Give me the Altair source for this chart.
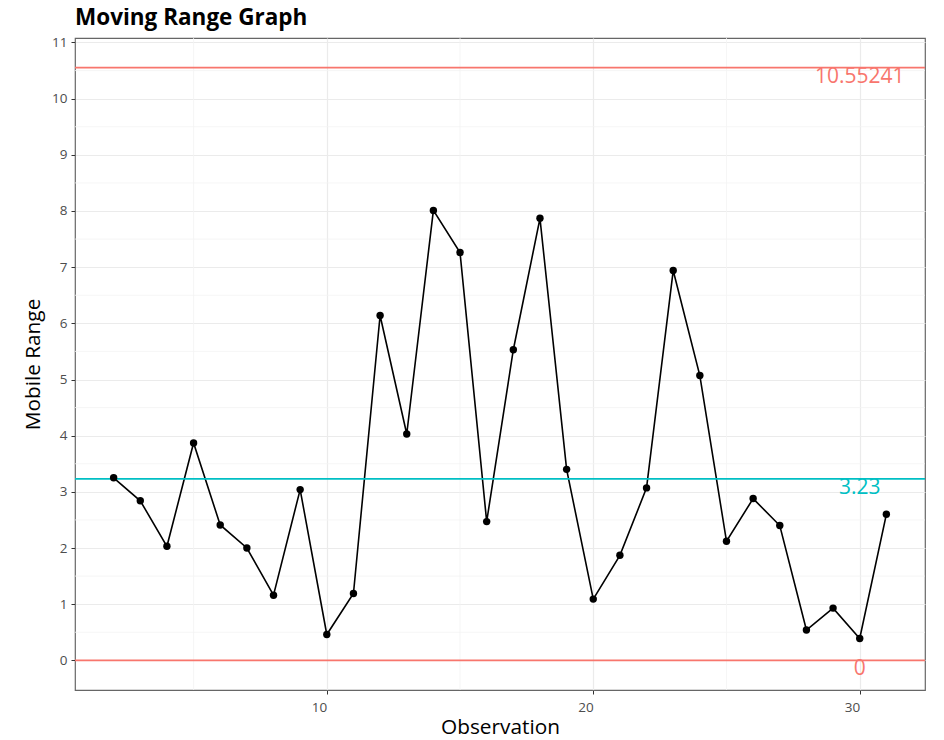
import altair as alt
import pandas as pd

# Data
observations = list(range(2, 32))
moving_range = [3.25, 2.84, 2.03, 3.87, 2.41, 2.00, 1.16, 3.04, 0.46, 1.19,
                6.14, 4.03, 8.01, 7.26, 2.47, 5.53, 7.87, 3.40, 1.09, 1.87,
                3.07, 6.94, 5.07, 2.12, 2.88, 2.40, 0.54, 0.93, 0.39, 2.60]

limit_values = [10.55241, 3.23, 0.0]
limit_labels = ["10.55241", "3.23", "0"]
limit_kind = ["UCL", "CL", "LCL"]
label_x = [30, 30, 30]

minor_y = [0.5, 1.5, 2.5, 3.5, 4.5, 5.5, 6.5, 7.5, 8.5, 9.5, 10.5]
minor_x = [5, 15, 25]
y_ticks = list(range(0, 12))
x_ticks = [10, 20, 30]

df = pd.DataFrame({"Observation": observations, "MR": moving_range})
lim = pd.DataFrame({"value": limit_values, "label": limit_labels,
                    "kind": limit_kind, "x": label_x})
my = pd.DataFrame({"y": minor_y})
mx = pd.DataFrame({"x": minor_x})

FONT = "Open Sans"
xs = alt.Scale(domain=[0.55, 32.45], nice=False, zero=False)
ys = alt.Scale(domain=[-0.528, 11.08], nice=False, zero=False)

x_axis = alt.Axis(values=x_ticks, title="Observation", grid=True,
                  gridColor="#EBEBEB", gridWidth=1.2,
                  labelAlign="right", labelFontSize=13.5,
                  labelColor="#4D4D4D", labelPadding=6,
                  tickColor="#333333", tickSize=4,
                  titleFontSize=20.8, titleFontWeight="normal",
                  titleColor="#000000", titlePadding=4,
                  domain=False, labelFont=FONT, titleFont=FONT)
y_axis = alt.Axis(values=y_ticks, title="Mobile Range", grid=True,
                  gridColor="#EBEBEB", gridWidth=1.2,
                  labelFontSize=13.5, labelColor="#4D4D4D",
                  labelPadding=4, tickColor="#333333", tickSize=4,
                  titleFontSize=20.8, titleFontWeight="normal",
                  titleColor="#000000", titlePadding=8,
                  domain=False, labelFont=FONT, titleFont=FONT)

color_scale = alt.Scale(domain=["UCL", "CL", "LCL"],
                        range=["#F8766D", "#00BFC4", "#F8766D"])

minor_h = alt.Chart(my).mark_rule(color="#F4F4F4", strokeWidth=0.8).encode(
    y=alt.Y("y:Q", scale=ys, axis=y_axis))
minor_v = alt.Chart(mx).mark_rule(color="#F4F4F4", strokeWidth=0.8).encode(
    x=alt.X("x:Q", scale=xs, axis=x_axis))

base = alt.Chart(df).encode(
    x=alt.X("Observation:Q", scale=xs, axis=x_axis),
    y=alt.Y("MR:Q", scale=ys, axis=y_axis),
)

line = base.mark_line(color="#000000", strokeWidth=1.6)
points = base.mark_circle(color="#000000", size=55, opacity=1)

rules = alt.Chart(lim).mark_rule(strokeWidth=1.6).encode(
    y=alt.Y("value:Q", scale=ys, axis=y_axis),
    color=alt.Color("kind:N", scale=color_scale, legend=None))

texts = alt.Chart(lim).mark_text(fontSize=21, font=FONT, baseline="middle",
                                 align="center", dy=9).encode(
    x=alt.X("x:Q", scale=xs, axis=x_axis),
    y=alt.Y("value:Q", scale=ys, axis=y_axis),
    text="label:N",
    color=alt.Color("kind:N", scale=color_scale, legend=None))

chart = alt.layer(minor_h, minor_v, line, rules, points, texts).properties(
    width=850, height=652,
    title=alt.TitleParams("Moving Range Graph", anchor="start", frame="group",
                          fontSize=22.5, fontWeight="bold", font=FONT,
                          color="#000000", offset=6),
    autosize=alt.AutoSizeParams(type="none"),
    padding={"left": 67, "top": 30, "right": 11, "bottom": 50},
).configure_view(stroke="#666666", strokeWidth=1.2)

chart.save("out.html", embed_options={"renderer": "svg", "actions": False})
